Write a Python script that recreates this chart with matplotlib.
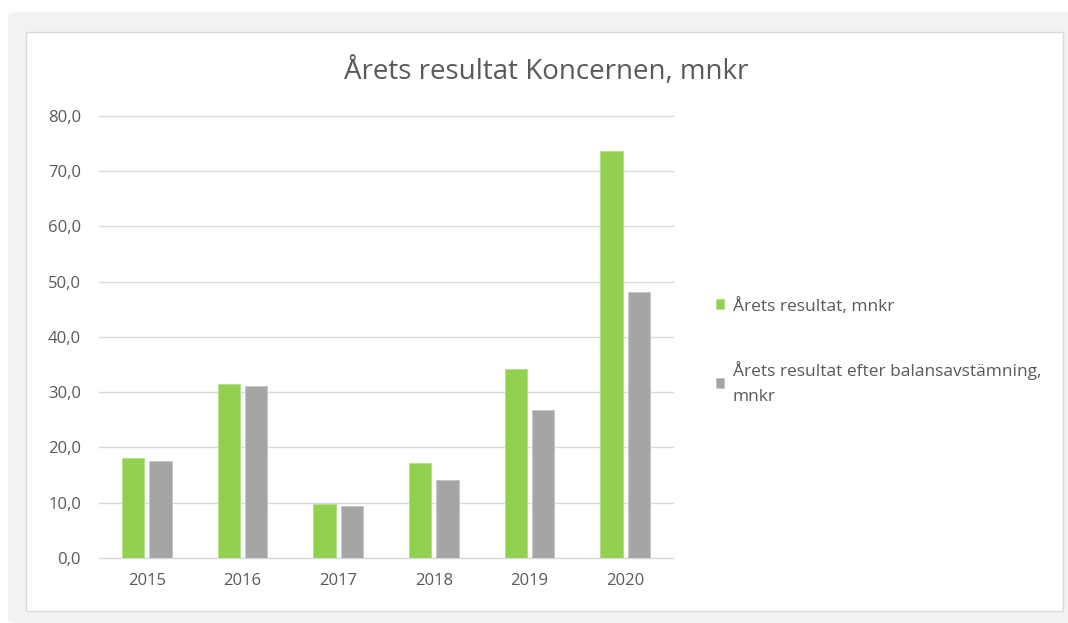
import matplotlib.pyplot as plt
from matplotlib.patches import FancyBboxPatch, Rectangle
import numpy as np

years = ["2015", "2016", "2017", "2018", "2019", "2020"]
resultat = [18.1, 31.5, 9.8, 17.2, 34.2, 73.6]
efter_balans = [17.5, 31.1, 9.4, 14.1, 26.7, 48.1]
y_ticks = [0, 10, 20, 30, 40, 50, 60, 70, 80]

GREEN = "#92d050"
GREY = "#a5a5a5"
TEXT = "#595959"
GRID = "#d9d9d9"

plt.rcParams['font.family'] = ['Open Sans', 'DejaVu Sans']

W, H = 1068, 623
fig = plt.figure(figsize=(W / 100, H / 100), dpi=100)
fig.patch.set_facecolor("white")

# grey panel and white chart box behind everything
panel = FancyBboxPatch((8 / W, 0), (W + 20) / W, (H - 12) / H,
                       boxstyle="round,pad=0,rounding_size=0.008",
                       transform=fig.transFigure, facecolor="#f2f2f2",
                       edgecolor="none", zorder=-2)
fig.patches.append(panel)
box = Rectangle((26 / W, (H - 611) / H), (1063 - 26) / W, (611 - 32) / H,
                transform=fig.transFigure, facecolor="white",
                edgecolor=GRID, linewidth=1, zorder=-1)
fig.patches.append(box)

ax = fig.add_axes([99 / W, (H - 558) / H, (673 - 99) / W, (558 - 115.7) / H])
ax.set_facecolor("none")

x = np.arange(len(years))
w = 0.235
off = 0.143
ax.bar(x - off, resultat, w, color=GREEN, edgecolor="#b3e08a", linewidth=0.6,
       label="Årets resultat, mnkr", zorder=3)
ax.bar(x + off, efter_balans, w, color=GREY, edgecolor="#c4c4c4", linewidth=0.6,
       label="Årets resultat efter balansavstämning,\nmnkr", zorder=3)

ax.set_xlim(-0.5, len(years) - 0.5)
ax.set_ylim(0, 80)
ax.set_yticks(y_ticks)
ax.set_yticklabels([f"{v:.1f}".replace(".", ",") for v in y_ticks])
ax.set_xticks(x)
ax.set_xticklabels(years)
ax.tick_params(axis="both", length=0, colors=TEXT, labelsize=12)
ax.tick_params(axis="y", pad=13)
ax.tick_params(axis="x", pad=11)

for s in ["top", "right", "left"]:
    ax.spines[s].set_visible(False)
ax.spines["bottom"].set_color(GRID)
ax.grid(axis="y", color=GRID, linewidth=1, zorder=0)
ax.set_axisbelow(True)
for gl in ax.get_ygridlines():
    gl.set_clip_on(False)

fig.text(546 / W, 1 - 72 / H, "Årets resultat Koncernen, mnkr",
         ha="center", va="center", fontsize=20, color=TEXT)

leg = ax.legend(loc="upper left", bbox_to_anchor=(700 / W, 1 - 282 / H),
                bbox_transform=fig.transFigure, frameon=False, fontsize=12.5,
                handlelength=0.5, handleheight=0.5, handletextpad=0.5,
                labelspacing=2.7, labelcolor=TEXT)
for t in leg.get_texts():
    t.set_linespacing(1.75)

fig.savefig("out.png", dpi=100)
